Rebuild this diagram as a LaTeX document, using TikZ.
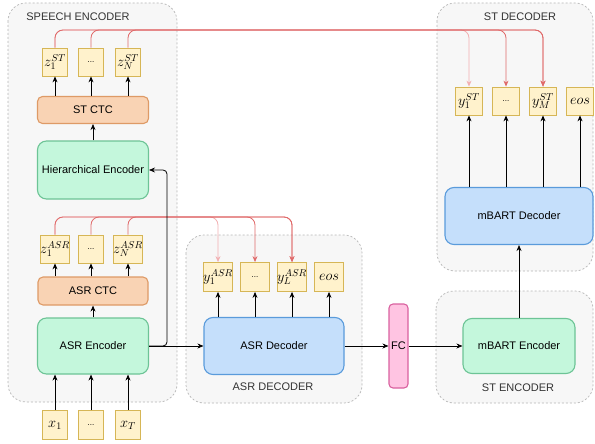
\documentclass[tikz,border=0pt]{standalone}
\usepackage{fontspec}
\setmainfont{Liberation Sans}
\usetikzlibrary{arrows.meta,positioning}

\definecolor{grpfill}{HTML}{F7F7F7}
\definecolor{grpline}{HTML}{B5B5B5}
\definecolor{tokfill}{HTML}{FFF2CC}
\definecolor{tokline}{HTML}{D6B656}
\definecolor{ctcfill}{HTML}{F9D3B4}
\definecolor{ctcline}{HTML}{DE9A66}
\definecolor{encfill}{HTML}{C4F7DC}
\definecolor{encline}{HTML}{6DC496}
\definecolor{decfill}{HTML}{C5DFFB}
\definecolor{decline}{HTML}{5A9BDB}
\definecolor{fcfill}{HTML}{FFC4E2}
\definecolor{fcline}{HTML}{D9619F}
\definecolor{redline}{HTML}{E06A6A}
\definecolor{pinkline}{HTML}{F2B0B2}

\begin{document}
\begin{tikzpicture}[x=1pt,y=-1pt,
  group/.style={draw=grpline, fill=grpfill, dash pattern=on 2pt off 2pt, rounded corners=18pt, line width=0.7pt},
  grplabel/.style={font=\fontsize{11}{13}\selectfont, text=black!80},
  tok/.style={draw=tokline, fill=tokfill, line width=0.8pt, minimum width=25pt, minimum height=28pt, inner sep=0pt, font=\fontsize{14.4}{16}\selectfont},
  dots/.style={tok, font=\fontsize{8}{9}\selectfont},
  block/.style={line width=1.1pt, inner sep=0pt, font=\fontsize{11}{13}\selectfont},
  ctc/.style={block, draw=ctcline, fill=ctcfill, rounded corners=5pt},
  enc/.style={block, draw=encline, fill=encfill, rounded corners=9pt},
  dec/.style={block, draw=decline, fill=decfill, rounded corners=9pt},
  fcbox/.style={block, draw=fcline, fill=fcfill, rounded corners=4pt},
  arr/.style={-{Stealth[length=6pt,width=5pt]}, line width=0.8pt},
  redarr/.style={arr, draw=redline, color=redline, rounded corners=8pt},
  pinkarr/.style={arr, draw=pinkline, color=pinkline, rounded corners=8pt},
]
  \useasboundingbox (0,0) rectangle (595,444);

  % group backgrounds
  \draw[group] (8,3) rectangle (177,402);
  \draw[group] (186,235) rectangle (362,403);
  \draw[group] (437,3) rectangle (593,271);
  \draw[group] (436,291) rectangle (593,403);
  \node[grplabel] (spenclbl) at (78,17) {SPEECH ENCODER};
  \node[grplabel] (asrdeclbl) at (273,387) {ASR DECODER};
  \node[grplabel] (stdeclbl) at (520,17) {ST DECODER};
  \node[grplabel] (stenclbl) at (518,388) {ST ENCODER};

  % speech encoder
  \node[tok] (zst1) at (55,62) {$z_1^{ST}$};
  \node[dots] (zst2) at (91,62) {...};
  \node[tok] (zst3) at (128,62) {$z_N^{ST}$};
  \node[ctc, minimum width=111pt, minimum height=27pt] (stctc) at (93,110) {ST CTC};
  \node[enc, minimum width=111pt, minimum height=58pt] (hier) at (93,170) {Hierarchical Encoder};
  \node[tok] (zasr1) at (55,249) {$z_1^{ASR}$};
  \node[dots] (zasr2) at (91,249) {...};
  \node[tok] (zasr3) at (128,249) {$z_N^{ASR}$};
  \node[ctc, minimum width=110pt, minimum height=28pt] (asrctc) at (93,291) {ASR CTC};
  \node[enc, minimum width=111pt, minimum height=56pt] (asrenc) at (93,346) {ASR Encoder};
  \node[tok, minimum height=29pt] (x1) at (55,425) {$x_1$};
  \node[dots, minimum height=29pt] (x2) at (91,425) {...};
  \node[tok, minimum height=29pt] (x3) at (128,425) {$x_T$};

  % asr decoder
  \node[tok, minimum width=29pt, minimum height=29pt] (yasr1) at (218,277) {$y_1^{ASR}$};
  \node[dots, minimum width=29pt, minimum height=29pt] (yasr2) at (255,277) {...};
  \node[tok, minimum width=29pt, minimum height=29pt] (yasr3) at (292,277) {$y_L^{ASR}$};
  \node[tok, minimum width=29pt, minimum height=29pt] (yasr4) at (329,277) {$eos$};
  \node[dec, minimum width=140pt, minimum height=57pt] (asrdec) at (274,346) {ASR Decoder};

  \node[fcbox, minimum width=19pt, minimum height=84pt] (fc) at (398.5,346) {FC};

  % st encoder and decoder
  \node[enc, minimum width=112pt, minimum height=55pt] (menc) at (519,346) {mBART Encoder};
  \node[dec, minimum width=148pt, minimum height=57pt] (mdec) at (519,216) {mBART Decoder};
  \node[tok, minimum width=27pt] (yst1) at (469,101) {$y_1^{ST}$};
  \node[dots, minimum width=27pt] (yst2) at (506,101) {...};
  \node[tok, minimum width=27pt] (yst3) at (543,101) {$y_M^{ST}$};
  \node[tok, minimum width=27pt] (yst4) at (580,101) {$eos$};

  \coordinate (sttrunk) at (0,30);
  \coordinate (asrtrunk) at (0,217);
  \coordinate (split) at (167,346);

  % CTC outputs to the decoders
  \draw[pinkarr] (zst1.north) |- (yst1.north |- sttrunk) -- (yst1.north);
  \draw[redarr] (zst1.north) |- (yst3.north |- sttrunk) -- (yst3.north);
  \draw[redarr] (zst2.north) |- (yst2.north |- sttrunk) -- (yst2.north);
  \draw[redarr] (zst3.north) |- (yst3.north |- sttrunk) -- (yst3.north);
  \draw[pinkarr] (zasr1.north) |- (yasr1.north |- asrtrunk) -- (yasr1.north);
  \draw[redarr] (zasr1.north) |- (yasr3.north |- asrtrunk) -- (yasr3.north);
  \draw[redarr] (zasr2.north) |- (yasr2.north |- asrtrunk) -- (yasr2.north);
  \draw[redarr] (zasr3.north) |- (yasr3.north |- asrtrunk) -- (yasr3.north);

  % main flow
  \foreach \i in {1,2,3} {
    \draw[arr] (x\i.north) -- (x\i.north |- asrenc.south);
    \draw[arr] (zasr\i.south |- asrctc.north) -- (zasr\i.south);
    \draw[arr] (zst\i.south |- stctc.north) -- (zst\i.south);
  }
  \draw[arr] (asrenc.north) -- (asrctc.south);
  \draw[arr] (hier.north) -- (stctc.south);
  \draw[arr] (asrenc.east) -- (asrdec.west);
  \draw[arr, rounded corners=4pt] (asrenc.east) -- (split) |- (hier.east);
  \foreach \i in {1,...,4} {
    \draw[arr] (yasr\i.south |- asrdec.north) -- (yasr\i.south);
    \draw[arr] (yst\i.south |- mdec.north) -- (yst\i.south);
  }
  \draw[arr] (asrdec.east) -- (fc.west);
  \draw[arr] (fc.east) -- (menc.west);
  \draw[arr] (menc.north) -- (mdec.south);
\end{tikzpicture}
\end{document}
